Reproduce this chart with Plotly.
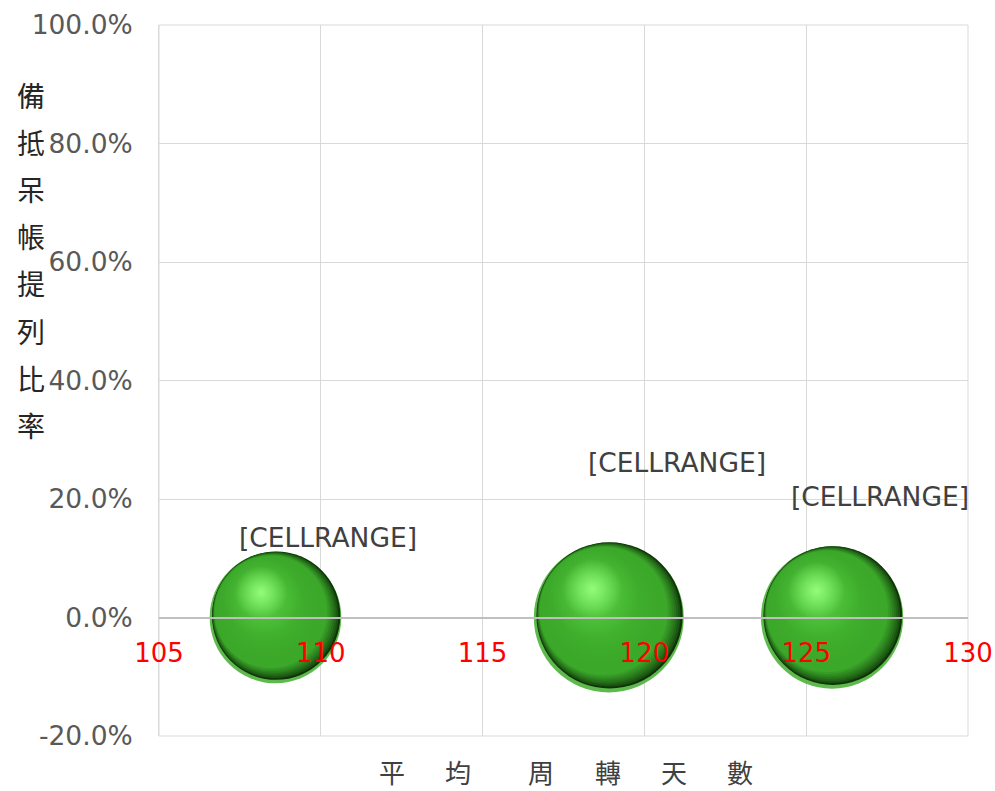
import math
import plotly.graph_objects as go

# ---------------- data ----------------
turnover_days = [108.6, 118.9, 125.8]      # x: 平均周轉天數
allowance_ratio = [0.0, 0.0, 0.0]          # y: 備抵呆帳提列比率
bubble_size = [77, 100, 90]                # bubble sizes (relative)
bubble_labels = ["[CELLRANGE]", "[CELLRANGE]", "[CELLRANGE]"]
x_ticks = [105, 110, 115, 120, 125, 130]
y_ticks = [-0.2, 0.0, 0.2, 0.4, 0.6, 0.8, 1.0]
y_tick_text = ["-20.0%", "0.0%", "20.0%", "40.0%", "60.0%", "80.0%", "100.0%"]
y_title_chars = ["備", "抵", "呆", "帳", "提", "列", "比", "率"]
x_title_chars = ["平", "均", "周", "轉", "天", "數"]

# ---------------- layout constants ----------------
OFF = 0                       # page body margin (removed by post_script)
W, H = 995, 791
ML, MR, MT, MB = 159, 27, 25, 55
PW, PH = W - ML - MR, H - MT - MB
XR = [105, 130]
YR = [-0.2, 1.0]
px_x = PW / (XR[1] - XR[0])
px_y = PH / (YR[1] - YR[0])
MAX_D = 150

label_dx = [52, 68, 48]
label_dy = [80, 155, 121]
x_title_px = [392, 458, 541, 608, 674, 740]
x_title_py = 771
y_title_px = 31
y_title_py0, y_title_step = 95, 47.1

FONT = "DejaVu Sans, Noto Sans CJK TC, sans-serif"
CJK = "Noto Sans CJK TC, sans-serif"


def paper_x(px):
    return (px - OFF - ML) / PW


def paper_y(py):
    return (OFF + MT + PH - py) / PH


smax = max(bubble_size)
diam = [MAX_D * math.sqrt(s / smax) for s in bubble_size]

fig = go.Figure()


def layer(scale, ox, oy, edge, center=None):
    xs = [x + ox * d / 2 / px_x for x, d in zip(turnover_days, diam)]
    ys = [y + oy * d / 2 / px_y for y, d in zip(allowance_ratio, diam)]
    m = dict(size=[d * scale for d in diam], sizemode="diameter",
             color=edge, line=dict(width=0), opacity=1)
    if center is not None:
        m["gradient"] = dict(type="radial", color=center)
    fig.add_trace(go.Scatter(x=xs, y=ys, mode="markers", marker=m,
                             hoverinfo="skip", showlegend=False, cliponaxis=False))


def mix(c1, c2, t):
    return "rgb({},{},{})".format(*[round(a + (b - a) * t) for a, b in zip(c1, c2)])


# sphere shading layers
layer(1.0, 0, 0, "#5fba4d")                                   # light bottom rim
DARK, MID = (14, 52, 8), (60, 168, 42)
N = 8
for k in range(N):                                            # dark crescent -> mid body
    t = k / (N - 1)
    layer(0.975 - 0.12 * t, 0.01 - 0.08 * t, 0.028 + 0.06 * t, mix(DARK, MID, t ** 0.7))
for s in (0.8, 0.7, 0.6):                                     # soft brighter body
    layer(s, -0.12, 0.16, "rgba(66,182,46,0)", "rgba(70,186,50,0.6)")
layer(0.6, -0.2, 0.32, "rgba(100,220,80,0)", "rgba(110,228,88,0.55)")
layer(0.4, -0.22, 0.38, "rgba(140,250,115,0)", "rgba(150,255,125,0.95)")  # highlight

# bubble labels
for x, y, t, dx, dy in zip(turnover_days, allowance_ratio, bubble_labels, label_dx, label_dy):
    fig.add_annotation(x=x, y=y, xref="x", yref="y", text=t, showarrow=False,
                       xshift=dx, yshift=dy, font=dict(family=FONT, size=26.5, color="#404040"))

# y-axis title (vertical characters)
for i, ch in enumerate(y_title_chars):
    fig.add_annotation(x=paper_x(y_title_px), y=paper_y(y_title_py0 + i * y_title_step),
                       xref="paper", yref="paper", text=ch, showarrow=False,
                       xanchor="center", yanchor="middle",
                       font=dict(family=CJK, size=28, color="#262626"))

# x-axis title
for ch, px in zip(x_title_chars, x_title_px):
    fig.add_annotation(x=paper_x(px), y=paper_y(x_title_py), xref="paper", yref="paper",
                       text=ch, showarrow=False, xanchor="center", yanchor="middle",
                       font=dict(family=CJK, size=26, color="#404040"))

zero_pos = (0 - YR[0]) / (YR[1] - YR[0])

fig.update_layout(
    width=W, height=H,
    margin=dict(l=ML, r=MR, t=MT, b=MB, autoexpand=False),
    paper_bgcolor="white", plot_bgcolor="white",
    showlegend=False,
    xaxis=dict(range=XR, tickvals=x_ticks, ticktext=[str(v) for v in x_ticks],
               showgrid=True, gridcolor="#d9d9d9", gridwidth=1,
               zeroline=False, showline=True, linecolor="#bfbfbf", linewidth=2,
               anchor="free", position=zero_pos, automargin=False,
               ticks="", ticklabelstandoff=12,
               tickfont=dict(family=FONT, size=26, color="#ff0000"),
               fixedrange=True),
    yaxis=dict(range=YR, tickvals=y_ticks, ticktext=y_tick_text, automargin=False,
               showgrid=True, gridcolor="#d9d9d9", gridwidth=1,
               zeroline=False, showline=True, linecolor="#d9d9d9",
               ticks="", ticklabelstandoff=20,
               tickfont=dict(family=FONT, size=26.5, color="#595959"),
               fixedrange=True),
)
fig.add_shape(type="rect", xref="paper", yref="paper", x0=0, x1=1, y0=0, y1=1,
              line=dict(color="#d9d9d9", width=1), layer="below")

fig.write_html(
    "out.html",
    config={"displayModeBar": False},
    post_script="document.body.style.margin='0px';document.body.style.overflow='hidden';",
)
